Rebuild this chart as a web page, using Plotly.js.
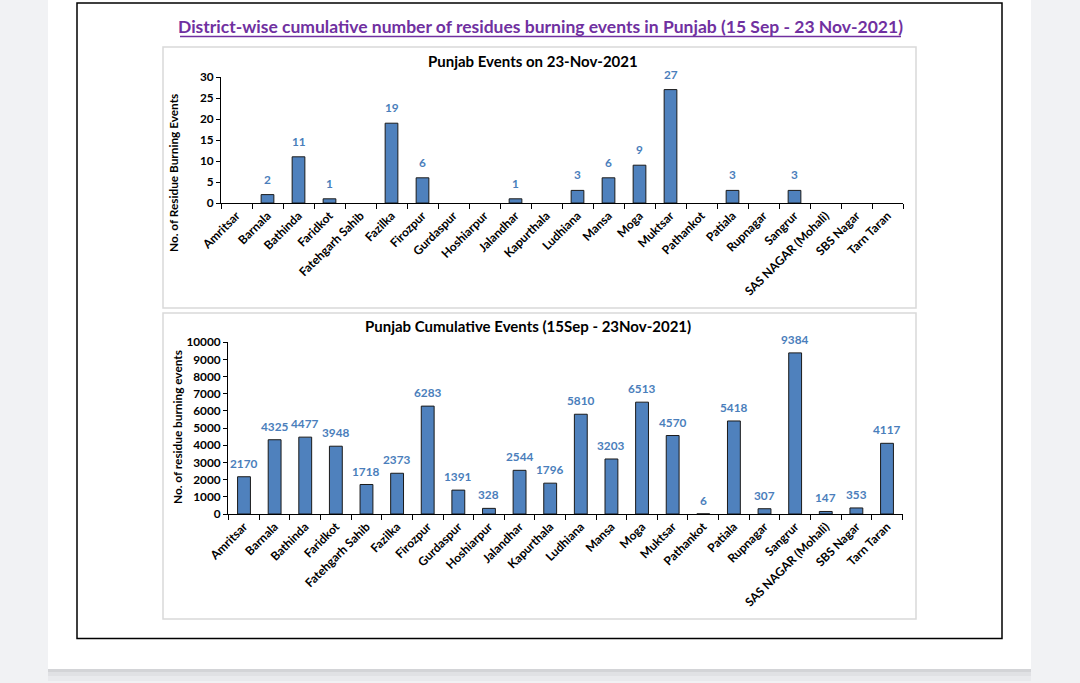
<!DOCTYPE html>
<html>
<head>
<meta charset="utf-8">
<script src="https://cdn.plot.ly/plotly-3.0.1.min.js"></script>
<style>
  html, body { margin: 0; padding: 0; background: #f1f2f4; }
  #chart { width: 1080px; height: 683px; }
</style>
</head>
<body>
<div id="chart"></div>
<script>
// ---------- data ----------
const districts = ["Amritsar", "Barnala", "Bathinda", "Faridkot", "Fatehgarh Sahib", "Fazilka",
  "Firozpur", "Gurdaspur", "Hoshiarpur", "Jalandhar", "Kapurthala", "Ludhiana", "Mansa", "Moga",
  "Muktsar", "Pathankot", "Patiala", "Rupnagar", "Sangrur", "SAS NAGAR (Mohali)", "SBS Nagar", "Tarn Taran"];
const eventsOnDay = [0, 2, 11, 1, 0, 19, 6, 0, 0, 1, 0, 3, 6, 9, 27, 0, 3, 0, 3, 0, 0, 0];
const cumulativeEvents = [2170, 4325, 4477, 3948, 1718, 2373, 6283, 1391, 328, 2544, 1796, 5810,
  3203, 6513, 4570, 6, 5418, 307, 9384, 147, 353, 4117];
const mainTitle = "District-wise cumulative number of residues burning events in Punjab (15 Sep - 23 Nov-2021)";
const title1 = "Punjab Events on 23-Nov-2021";
const title2 = "Punjab Cumulative Events (15Sep - 23Nov-2021)";
const yTitle1 = "No. of Residue Burning Events";
const yTitle2 = "No. of residue burning events";
const yTicks1 = [0, 5, 10, 15, 20, 25, 30];
const yTicks2 = [0, 1000, 2000, 3000, 4000, 5000, 6000, 7000, 8000, 9000, 10000];

// ---------- helpers (pixel -> paper) ----------
const W = 1080, H = 683;
const px = v => v / W;
const py = v => 1 - v / H;

const FONT = "Lato, 'Open Sans', sans-serif";
const barColor = "#4f81bd";
const labelColor = "#4a7ebb";

const traces = [
  {
    type: "bar", x: districts, y: eventsOnDay, xaxis: "x", yaxis: "y",
    width: 0.41,
    marker: { color: barColor, line: { color: "#1a1a1a", width: eventsOnDay.map(v => v > 0 ? 1 : 0) } },
    hoverinfo: "x+y"
  },
  {
    type: "bar", x: districts, y: cumulativeEvents, xaxis: "x2", yaxis: "y2",
    width: 0.42,
    marker: { color: barColor, line: { color: "#1a1a1a", width: 1 } },
    hoverinfo: "x+y"
  }
];

const annotations = [];
// data labels
districts.forEach((d, i) => {
  if (eventsOnDay[i] > 0) {
    annotations.push({ x: d, y: eventsOnDay[i], xref: "x", yref: "y", text: "<b>" + eventsOnDay[i] + "</b>",
      showarrow: false, yanchor: "bottom", yshift: 6, font: { family: FONT, size: 11.8, color: labelColor } });
  }
  annotations.push({ x: d, y: cumulativeEvents[i], xref: "x2", yref: "y2", text: "<b>" + cumulativeEvents[i] + "</b>",
    showarrow: false, yanchor: "bottom", yshift: 4, font: { family: FONT, size: 11.8, color: labelColor } });
});
// titles
annotations.push({ xref: "paper", yref: "paper", x: px(540), y: py(27), text: "<b>" + mainTitle + "</b>",
  showarrow: false, xanchor: "center", yanchor: "middle", font: { family: FONT, size: 17.5, color: "#7030a0" } });
annotations.push({ xref: "paper", yref: "paper", x: px(533), y: py(61), text: "<b>" + title1 + "</b>",
  showarrow: false, xanchor: "center", yanchor: "middle", font: { family: FONT, size: 15, color: "#000" } });
annotations.push({ xref: "paper", yref: "paper", x: px(528), y: py(326), text: "<b>" + title2 + "</b>",
  showarrow: false, xanchor: "center", yanchor: "middle", font: { family: FONT, size: 15, color: "#000" } });
annotations.push({ xref: "paper", yref: "paper", x: px(173), y: py(173), text: "<b>" + yTitle1 + "</b>",
  textangle: -90, showarrow: false, xanchor: "center", yanchor: "middle", font: { family: FONT, size: 11.8, color: "#000" } });
annotations.push({ xref: "paper", yref: "paper", x: px(177), y: py(427), text: "<b>" + yTitle2 + "</b>",
  textangle: -90, showarrow: false, xanchor: "center", yanchor: "middle", font: { family: FONT, size: 11.8, color: "#000" } });

const shapes = [
  // white page
  { type: "rect", xref: "paper", yref: "paper", x0: px(48), x1: px(1031), y0: py(0), y1: py(669),
    fillcolor: "#ffffff", line: { width: 0 }, layer: "below" },
  // shadow under page
  { type: "rect", xref: "paper", yref: "paper", x0: px(48), x1: px(1031), y0: py(669), y1: py(672),
    fillcolor: "#d3d4d7", line: { width: 0 }, layer: "below" },
  { type: "rect", xref: "paper", yref: "paper", x0: px(48), x1: px(1031), y0: py(672), y1: py(676),
    fillcolor: "#e0e1e4", line: { width: 0 }, layer: "below" },
  { type: "rect", xref: "paper", yref: "paper", x0: px(48), x1: px(1031), y0: py(676), y1: py(681),
    fillcolor: "#e9eaed", line: { width: 0 }, layer: "below" },
  // black frame
  { type: "rect", xref: "paper", yref: "paper", x0: px(77), x1: px(1002), y0: py(3), y1: py(638.5),
    line: { color: "#000", width: 1.5 }, layer: "below" },
  // chart panels
  { type: "rect", xref: "paper", yref: "paper", x0: px(163), x1: px(916), y0: py(47), y1: py(308),
    line: { color: "#d9d9d9", width: 1.5 }, layer: "below" },
  { type: "rect", xref: "paper", yref: "paper", x0: px(163), x1: px(916), y0: py(313), y1: py(619),
    line: { color: "#d9d9d9", width: 1.5 }, layer: "below" },
  // title underline
  { type: "line", xref: "paper", yref: "paper", x0: px(180), x1: px(901), y0: py(36.5), y1: py(36.5),
    line: { color: "#7030a0", width: 1.5 } }
];

const xCommon = {
  type: "category", showline: true, linecolor: "#000", linewidth: 1,
  ticks: "outside", tickson: "boundaries", ticklen: 5, tickcolor: "#000", tickwidth: 1,
  tickangle: -45, showgrid: false, zeroline: false,
  tickfont: { family: FONT, size: 12, color: "#000", weight: "bold" }
};
const yCommon = {
  showline: true, linecolor: "#000", linewidth: 1, ticks: "outside", ticklen: 4,
  tickcolor: "#000", tickwidth: 1, showgrid: false, zeroline: false,
  tickfont: { family: FONT, size: 11.8, color: "#000", weight: "bold" }
};

const layout = {
  width: W, height: H,
  margin: { l: 0, r: 0, t: 0, b: 0 },
  paper_bgcolor: "#f1f2f4",
  plot_bgcolor: "rgba(0,0,0,0)",
  showlegend: false,
  font: { family: FONT },
  xaxis: Object.assign({}, xCommon, { domain: [px(221), px(903)], anchor: "y" }),
  yaxis: Object.assign({}, yCommon, { domain: [py(203), py(77)], range: [0, 30],
    tickvals: yTicks1, ticktext: yTicks1.map(String), anchor: "x" }),
  xaxis2: Object.assign({}, xCommon, { domain: [px(228), px(903)], anchor: "y2" }),
  yaxis2: Object.assign({}, yCommon, { domain: [py(514), py(342.3)], range: [0, 10000],
    tickvals: yTicks2, ticktext: yTicks2.map(String), anchor: "x2" }),
  annotations: annotations,
  shapes: shapes
};

Plotly.newPlot("chart", traces, layout, { displayModeBar: false, staticPlot: true });
</script>
</body>
</html>
